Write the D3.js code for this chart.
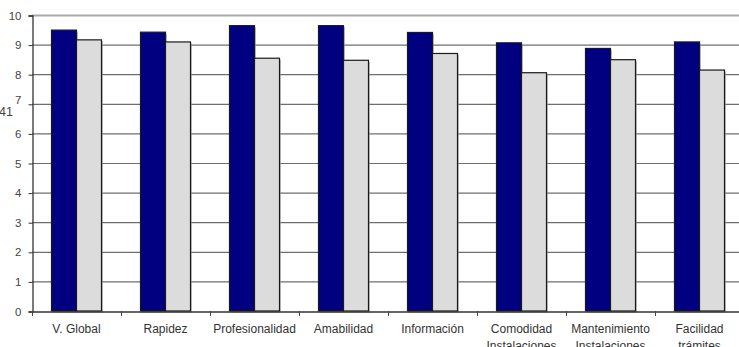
<!DOCTYPE html>
<html>
<head>
<meta charset="utf-8">
<script src="https://cdn.jsdelivr.net/npm/d3@7/dist/d3.min.js"></script>
<style>
  html, body { margin: 0; padding: 0; background: #fff; overflow: hidden; }
  svg { display: block; font-family: "Liberation Sans", Arial, sans-serif; }
</style>
</head>
<body>
<svg id="chart" width="739" height="347"></svg>
<script>
// Categories (two-line labels separated by "\n")
const categories = [
  "V. Global", "Rapidez", "Profesionalidad", "Amabilidad", "Información",
  "Comodidad\nInstalaciones", "Mantenimiento\nInstalaciones", "Facilidad\ntrámites"
];
const seriesNames = ["A", "B"];
const seriesA = [9.49, 9.42, 9.64, 9.64, 9.41, 9.06, 8.87, 9.09];
const seriesB = [9.16, 9.09, 8.54, 8.47, 8.70, 8.05, 8.49, 8.14];
const yTicks = [0, 1, 2, 3, 4, 5, 6, 7, 8, 9, 10];

const colors = { A: "#000080", B: "#dcdcdc" };

const svg = d3.select("#chart");
const W = 739;
const plotLeft = 32, plotRight = 744, plotTop = 15, plotBottom = 311;

const x0 = d3.scaleBand().domain(categories).range([plotLeft, plotRight]).padding(0);
const x1 = d3.scaleBand().domain(seriesNames).range([0, x0.bandwidth()])
  .paddingInner(0).paddingOuter(0.78);
const y = d3.scaleLinear().domain([0, 10]).range([plotBottom, plotTop]);

// Horizontal gridlines
svg.append("g").selectAll("line").data(yTicks.filter(t => t > 0)).join("line")
  .attr("x1", plotLeft).attr("x2", W)
  .attr("y1", d => y(d) + 0.5).attr("y2", d => y(d) + 0.5)
  .attr("stroke", d => d === 10 ? "#aaaaaa" : "#6e6e6e")
  .attr("stroke-width", d => d === 10 ? 2 : 1.2);

// Bars
const rows = categories.map((c, i) => ({ c, vals: [
  { s: "A", v: seriesA[i] }, { s: "B", v: seriesB[i] }
]}));
const groups = svg.append("g").selectAll("g").data(rows).join("g")
  .attr("transform", d => `translate(${x0(d.c)},0)`);
// soft shadow
groups.selectAll("rect.sh").data(d => d.vals).join("rect").attr("class", "sh")
  .attr("x", d => x1(d.s) + 1.5).attr("y", d => y(d.v) + 1.5)
  .attr("width", x1.bandwidth()).attr("height", d => y(0) - y(d.v))
  .attr("fill", "#9a9a9a").attr("opacity", 0.6);
groups.selectAll("rect.bar").data(d => d.vals).join("rect").attr("class", "bar")
  .attr("x", d => x1(d.s)).attr("y", d => y(d.v))
  .attr("width", x1.bandwidth()).attr("height", d => y(0) - y(d.v))
  .attr("fill", d => colors[d.s])
  .attr("stroke", "#1a1a1a").attr("stroke-width", 1.2);

// Y axis
const yAxis = d3.axisLeft(y).tickValues(yTicks).tickSize(4).tickPadding(7)
  .tickFormat(d3.format("d"));
const gy = svg.append("g").attr("transform", `translate(${plotLeft + 0.5},0.5)`).call(yAxis);
gy.select(".domain").attr("stroke", "#333").attr("stroke-width", 1.3);
gy.selectAll(".tick line").attr("stroke", "#333");
gy.selectAll(".tick text").attr("fill", "#444").style("font-size", "11.5px")
  .attr("dy", d => d === 7 ? "-0.05em" : "0.32em");

// Stray "41" beside the 7 label
svg.append("text").attr("x", -1).attr("y", 116)
  .attr("fill", "#444").style("font-size", "12.5px").text("41");

// X axis
const xAxis = d3.axisBottom(x0).tickSize(0).tickFormat("");
const gx = svg.append("g").attr("transform", `translate(0,${plotBottom + 0.5})`).call(xAxis);
gx.select(".domain").attr("stroke", "#333").attr("stroke-width", 1.3);
gx.selectAll(".tick").remove();
// category boundary ticks
const bounds = categories.map(c => x0(c)).concat([plotRight]);
svg.append("g").selectAll("line").data(bounds).join("line")
  .attr("x1", d => d + 0.5).attr("x2", d => d + 0.5)
  .attr("y1", plotBottom).attr("y2", plotBottom + 5)
  .attr("stroke", "#444").attr("stroke-width", 1);

// Category labels
const lab = svg.append("g").selectAll("text").data(categories).join("text")
  .attr("x", d => x0(d) + x0.bandwidth() / 2)
  .attr("y", 333)
  .attr("text-anchor", "middle")
  .attr("fill", "#333")
  .style("font-size", "12px");
lab.selectAll("tspan").data(d => d.split("\n")).join("tspan")
  .attr("x", function() { return d3.select(this.parentNode).attr("x"); })
  .attr("dy", (d, i) => i === 0 ? 0 : 17)
  .text(d => d);
</script>
</body>
</html>
